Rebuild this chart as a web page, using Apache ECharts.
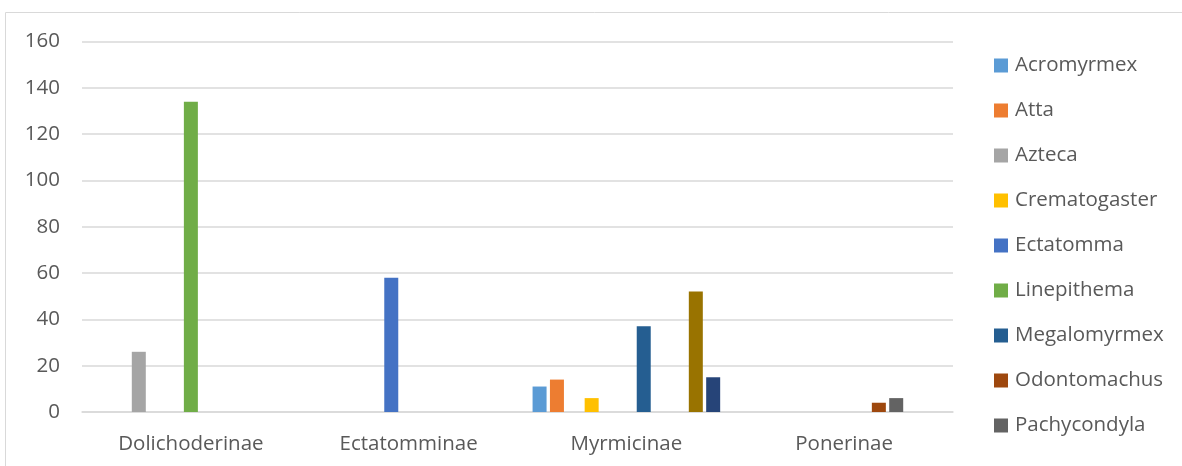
<!DOCTYPE html>
<html>
<head>
<meta charset="utf-8">
<title>Ant genera by subfamily</title>
<script src="https://cdn.jsdelivr.net/npm/echarts@6/dist/echarts.min.js"></script>
<style>
  html, body { margin: 0; padding: 0; background: #ffffff; }
  #chart { width: 1182px; height: 466px; }
</style>
</head>
<body>
<div id="chart"></div>
<script>
// Subfamilies on the category axis
const subfamilies = ['Dolichoderinae', 'Ectatomminae', 'Myrmicinae', 'Ponerinae'];

// Counts per genus, one value per subfamily
const acromyrmex    = [0, 0, 11, 0];
const atta          = [0, 0, 14, 0];
const azteca        = [26, 0, 0, 0];
const crematogaster = [0, 0, 6, 0];
const ectatomma     = [0, 58, 0, 0];
const linepithema   = [134, 0, 0, 0];
const megalomyrmex  = [0, 0, 37, 0];
const odontomachus  = [0, 0, 0, 4];
const pachycondyla  = [0, 0, 0, 6];
const pheidole      = [0, 0, 52, 0];
const solenopsis    = [0, 0, 15, 0];

const genusNames = ['Acromyrmex', 'Atta', 'Azteca', 'Crematogaster', 'Ectatomma',
  'Linepithema', 'Megalomyrmex', 'Odontomachus', 'Pachycondyla', 'Pheidole', 'Solenopsis'];
const genusValues = [acromyrmex, atta, azteca, crematogaster, ectatomma,
  linepithema, megalomyrmex, odontomachus, pachycondyla, pheidole, solenopsis];
// Only the first nine genera fit in the legend column
const legendNames = genusNames.slice(0, 9);

const yTicks = { min: 0, max: 160, interval: 20 };

const palette = ['#5B9BD5', '#ED7D31', '#A5A5A5', '#FFC000', '#4472C4', '#70AD47',
  '#255E91', '#9E480E', '#636363', '#997300', '#264478'];

const FONT = '"Open Sans", sans-serif';
const FONT_SIZE = 20.5;
const TEXT = '#595959';
const LINE = '#d9d9d9';

const chart = echarts.init(document.getElementById('chart'), null, { renderer: 'canvas' });

chart.setOption({
  animation: false,
  color: palette,
  textStyle: { fontFamily: FONT },
  graphic: [{
    type: 'rect',
    shape: { x: 5.5, y: 12.5, width: 1300, height: 600 },
    style: { fill: 'none', stroke: LINE, lineWidth: 1 },
    silent: true,
    z: -1
  }],
  grid: { left: 82, right: 229, top: 41.5, bottom: 54, containLabel: false },
  legend: {
    data: legendNames,
    orient: 'vertical',
    left: 994,
    top: 55,
    padding: 0,
    itemWidth: 14,
    itemHeight: 14,
    itemGap: 24,
    icon: 'rect',
    textStyle: { fontFamily: FONT, fontSize: FONT_SIZE, color: TEXT, lineHeight: 20, padding: [0, 0, 0, 2] }
  },
  xAxis: {
    type: 'category',
    data: subfamilies,
    axisLine: { show: true, lineStyle: { color: LINE, width: 1.5 } },
    axisTick: { show: false },
    axisLabel: { fontFamily: FONT, fontSize: FONT_SIZE, color: TEXT, margin: 22 },
    splitLine: { show: false }
  },
  yAxis: {
    type: 'value',
    min: yTicks.min,
    max: yTicks.max,
    interval: yTicks.interval,
    axisLine: { show: false },
    axisTick: { show: false },
    axisLabel: { fontFamily: FONT, fontSize: FONT_SIZE, color: TEXT, margin: 22 },
    splitLine: { lineStyle: { color: LINE, width: 1.5 } }
  },
  series: genusNames.map((name, i) => ({
    name: name,
    type: 'bar',
    data: genusValues[i],
    barWidth: 14,
    barGap: '24%',
    itemStyle: { color: palette[i] }
  }))
});
</script>
</body>
</html>
